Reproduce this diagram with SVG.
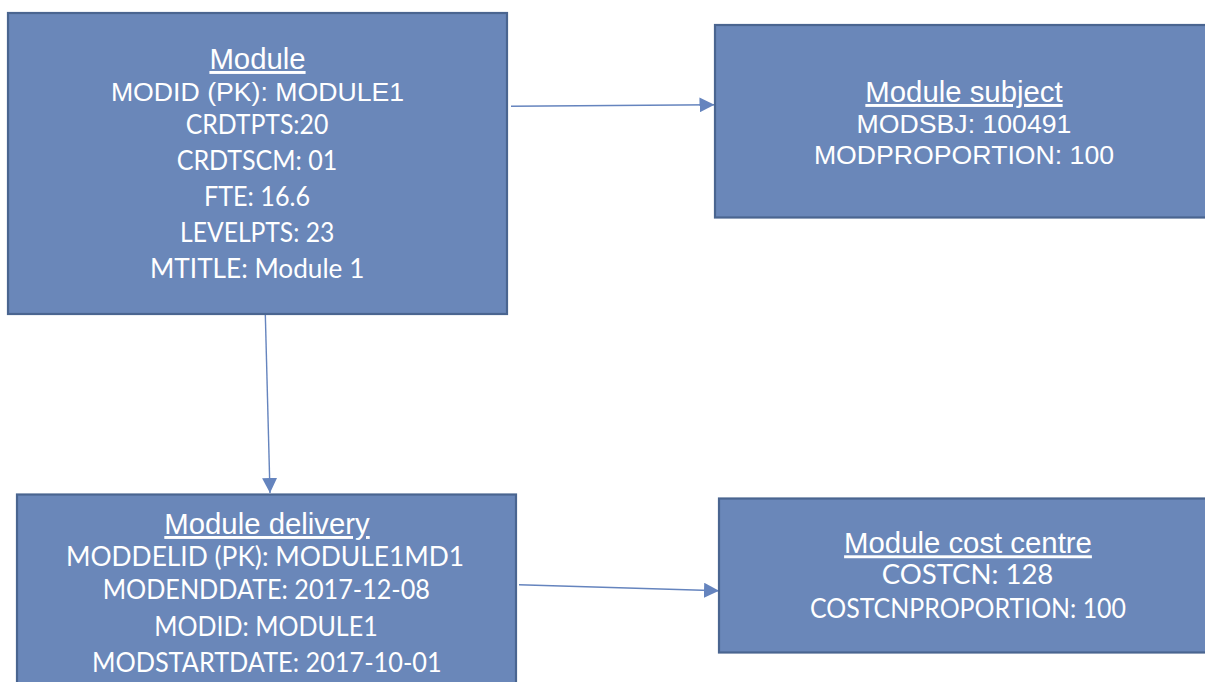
<svg xmlns="http://www.w3.org/2000/svg" width="1205" height="682" viewBox="0 0 1205 682">
<style>
.box{fill:#6A87B9;stroke:#4A6590;stroke-width:2.2}
.t{font-family:"Liberation Sans",Arial,sans-serif;font-size:29.33px;fill:#fff;text-anchor:middle;text-decoration:underline}
.a{font-family:"Liberation Sans",Arial,sans-serif;font-size:26.67px;fill:#fff;text-anchor:middle}
.c{font-family:Lato,"Open Sans",sans-serif;font-size:26px;fill:#fff;text-anchor:middle}
.conn{stroke:#6584BE;stroke-width:1.4;fill:none;marker-end:url(#ah)}
</style>
<defs>
<marker id="ah" markerUnits="userSpaceOnUse" markerWidth="15" markerHeight="15" viewBox="0 0 15 15" refX="15" refY="7.5" orient="auto">
<path d="M0,0 L15,7.5 L0,15 Z" fill="#6584BE"/>
</marker>
</defs>
<rect width="1205" height="682" fill="#fff"/>
<g id="connectors">
<line class="conn" x1="511" y1="106.3" x2="714.5" y2="104.8"/>
<line class="conn" x1="265.3" y1="314" x2="270" y2="493"/>
<line class="conn" x1="519" y1="584.7" x2="719" y2="590.7"/>
</g>
<g id="module">
<rect class="box" x="8" y="13" width="499" height="301"/>
<text class="t" x="257.5" y="69">Module</text>
<text class="a" x="257.5" y="100.7">MODID (PK): MODULE1</text>
<text class="c" x="257" y="134" textLength="142.7" lengthAdjust="spacingAndGlyphs">CRDTPTS:20</text>
<text class="c" x="257" y="170" textLength="160.7" lengthAdjust="spacingAndGlyphs">CRDTSCM: 01</text>
<text class="c" x="257" y="205.7" textLength="106" lengthAdjust="spacingAndGlyphs">FTE: 16.6</text>
<text class="c" x="257.2" y="241.7" textLength="154.3" lengthAdjust="spacingAndGlyphs">LEVELPTS: 23</text>
<text class="c" x="257.2" y="277.7" textLength="214.3" lengthAdjust="spacingAndGlyphs">MTITLE: Module 1</text>
</g>
<g id="module-subject">
<rect class="box" x="715" y="25" width="500" height="192.5"/>
<text class="t" x="964" y="102">Module subject</text>
<text class="a" x="964" y="133.3">MODSBJ: 100491</text>
<text class="a" x="964" y="164.3">MODPROPORTION: 100</text>
</g>
<g id="module-delivery">
<rect class="box" x="17" y="494.5" width="499" height="200"/>
<text class="t" x="267" y="534">Module delivery</text>
<text class="c" x="265" y="566" textLength="398" lengthAdjust="spacingAndGlyphs">MODDELID (PK): MODULE1MD1</text>
<text class="c" x="266.3" y="599" textLength="327.3" lengthAdjust="spacingAndGlyphs">MODENDDATE: 2017-12-08</text>
<text class="c" x="266" y="635.7" textLength="223.3" lengthAdjust="spacingAndGlyphs">MODID: MODULE1</text>
<text class="c" x="266.8" y="671.7" textLength="349.7" lengthAdjust="spacingAndGlyphs">MODSTARTDATE: 2017-10-01</text>
</g>
<g id="module-cost-centre">
<rect class="box" x="719" y="498.5" width="500" height="154"/>
<text class="t" x="968" y="553.3">Module cost centre</text>
<text class="c" x="967.5" y="584" textLength="171.7" lengthAdjust="spacingAndGlyphs">COSTCN: 128</text>
<text class="c" x="968" y="618.3" textLength="316" lengthAdjust="spacingAndGlyphs">COSTCNPROPORTION: 100</text>
</g>
</svg>
